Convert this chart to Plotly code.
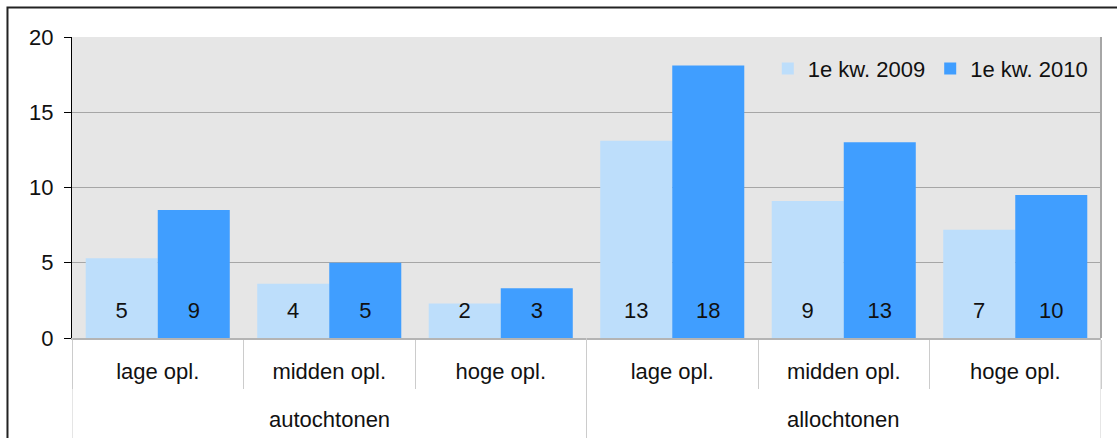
import plotly.graph_objects as go

groups = ["autochtonen", "autochtonen", "autochtonen", "allochtonen", "allochtonen", "allochtonen"]
levels = ["lage opl.", "midden opl.", "hoge opl.", "lage opl.", "midden opl.", "hoge opl."]
series_names = ["1e kw. 2009", "1e kw. 2010"]
values_2009 = [5.3, 3.6, 2.3, 13.1, 9.1, 7.2]
values_2010 = [8.5, 5.0, 3.3, 18.1, 13.0, 9.5]
y_ticks = [0, 5, 10, 15, 20]

LIGHT = "#BDDEFB"
BLUE = "#409EFF"
FONT = "Liberation Sans, Arial, sans-serif"
FS = 22
LABEL_Y = 1.7
DIV = "#CCCCCC"

idx = list(range(len(levels)))
boundaries = [i - 0.5 for i in range(len(levels) + 1)]
group_names = list(dict.fromkeys(groups))
group_centers = [sum(i for i in idx if groups[i] == g) / groups.count(g) for g in group_names]
group_bounds = [-0.5] + [i - 0.5 for i in idx[1:] if groups[i] != groups[i - 1]] + [len(levels) - 0.5]

fig = go.Figure()
for name, vals, col, og in [(series_names[0], values_2009, LIGHT, "a"),
                            (series_names[1], values_2010, BLUE, "b")]:
    fig.add_trace(go.Bar(x=idx, y=vals, name=name, marker_color=col,
                         marker_line_width=0, offsetgroup=og, hoverinfo="skip"))
for vals, og in [(values_2009, "a"), (values_2010, "b")]:
    fig.add_trace(go.Scatter(x=idx, y=[LABEL_Y] * len(vals), mode="text",
                             text=[str(int(v + 0.5)) for v in vals], offsetgroup=og,
                             textfont=dict(family=FONT, size=FS, color="#111111"),
                             showlegend=False, hoverinfo="skip", cliponaxis=False))

shapes = [
    dict(type="line", xref="paper", yref="paper", x0=1, x1=1, y0=0, y1=1,
         line=dict(color="#A6A6A6", width=2)),
    dict(type="rect", xref="paper", yref="paper", x0=-0.0627, x1=1.2, y0=-0.6, y1=1.098,
         line=dict(color="#222222", width=2), layer="above"),
]
for b in group_bounds:
    shapes.append(dict(type="line", xref="x", yref="paper", x0=b, x1=b, y0=0, y1=-0.34,
                       line=dict(color=DIV, width=1)))

annotations = [dict(x=c, y=-0.272, xref="x", yref="paper", text=g, showarrow=False,
                    xanchor="center", yanchor="middle", font=dict(size=FS, family=FONT, color="#111111"))
               for g, c in zip(group_names, group_centers)]

fig.update_layout(
    width=1117, height=438,
    margin=dict(l=72, r=16, t=37, b=100, autoexpand=False),
    paper_bgcolor="white", plot_bgcolor="#E6E6E6",
    barmode="group", bargap=0.16, bargroupgap=0, scattermode="group",
    font=dict(family=FONT, size=FS, color="#111111"),
    legend=dict(orientation="h", x=0.992, xanchor="right", y=0.895, yanchor="middle",
                bgcolor="rgba(0,0,0,0)", font=dict(size=FS), itemwidth=30,
                traceorder="normal"),
    xaxis=dict(range=[-0.5, len(levels) - 0.5], tickvals=idx, ticktext=levels,
               showline=True, linecolor="#B4B4B4", linewidth=2, ticks="",
               minor=dict(tickvals=boundaries, ticks="outside", ticklen=49,
                          tickcolor=DIV, tickwidth=1, showgrid=False),
               showgrid=False, zeroline=False, tickfont=dict(size=FS),
               ticklabelstandoff=13, automargin=False, fixedrange=True),
    yaxis=dict(range=[0, 20], tickvals=y_ticks, showline=True, linecolor="black",
               linewidth=1, ticks="outside", ticklen=7, tickcolor="black",
               gridcolor="#A6A6A6", gridwidth=1, zeroline=False,
               ticklabelstandoff=6, tickfont=dict(size=FS), automargin=False, fixedrange=True),
    shapes=shapes,
    annotations=annotations,
)

fig.write_html("out.html", config={"displayModeBar": False},
               post_script="document.body.style.margin='0';")
